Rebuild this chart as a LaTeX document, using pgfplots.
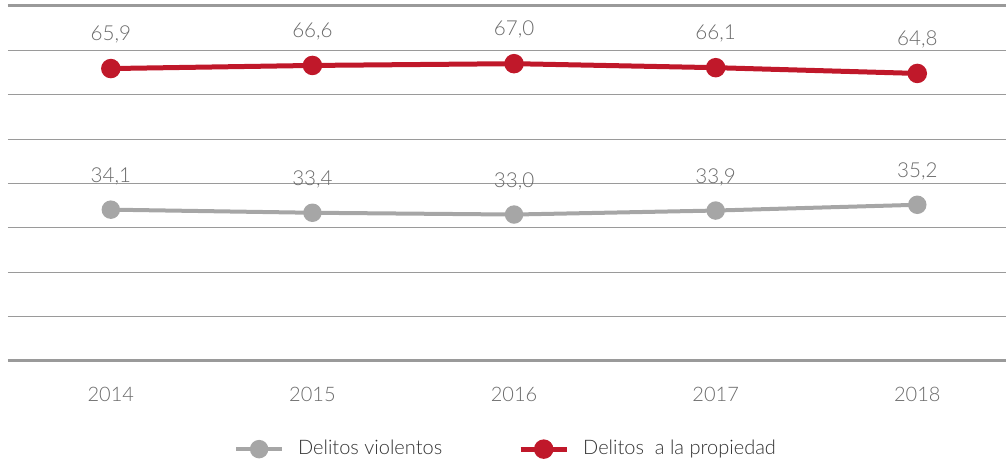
\documentclass[border=0pt]{standalone}
\usepackage{fontspec}
\setmainfont{Lato Light}
\usepackage{pgfplots}
\pgfplotsset{compat=1.18}
\definecolor{redline}{HTML}{C0182A}
\definecolor{grayline}{HTML}{A6A6A6}
\definecolor{gridc}{HTML}{9A9A9A}
\definecolor{labelc}{HTML}{6A6A6A}
\begin{document}
\begin{tikzpicture}
\begin{axis}[
  scale only axis, width=499pt, height=177.5pt,
  xmin=2013.49, xmax=2018.44, ymin=0, ymax=80,
  xtick={2014,2015,2016,2017,2018},
  ytick={0,10,...,80}, yticklabels={},
  major tick length=0pt,
  axis line style={draw=none},
  ymajorgrids, grid style={gridc, line width=0.6pt},
  extra y ticks={0,80}, extra y tick labels={},
  extra y tick style={grid style={gridc, line width=1.5pt}},
  /pgf/number format/assume math mode=true,
  x tick label style={/pgf/number format/1000 sep={}, font=\fontsize{10}{12}\selectfont, text=labelc, yshift=-9.5pt},
  nodes near coords,
  every node near coord/.append style={font=\fontsize{10.3}{12}\selectfont, text=labelc, anchor=south, yshift=8pt,
    /pgf/number format/fixed, /pgf/number format/fixed zerofill, /pgf/number format/precision=1, /pgf/number format/use comma},
  legend columns=2,
  legend style={at={(0.5,-0.2)}, anchor=north, draw=none, font=\fontsize{10}{12}\selectfont, text=black!80,
    /tikz/every odd column/.append style={column sep=5pt},
    /tikz/every even column/.append style={column sep=36pt}},
  legend image code/.code={\draw[mark repeat=2, mark phase=2, #1] plot coordinates {(0pt,0pt) (11.5pt,0pt) (23pt,0pt)};},
]
\addplot[grayline, line width=2pt, mark=*, mark size=3.6pt, mark options={fill=grayline, draw=grayline}]
  coordinates {(2014,34.1) (2015,33.4) (2016,33.0) (2017,33.9) (2018,35.2)};
\addlegendentry{Delitos violentos}
\addplot[redline, line width=2.5pt, mark=*, mark size=3.6pt, mark options={fill=redline, draw=redline}]
  coordinates {(2014,65.9) (2015,66.6) (2016,67.0) (2017,66.1) (2018,64.8)};
\addlegendentry{Delitos\ \ a la propiedad}
\end{axis}
\pgfresetboundingbox
\path (current axis.south west) ++(-4pt,-49pt) rectangle ([yshift=3pt]current axis.north east);
\end{tikzpicture}
\end{document}
